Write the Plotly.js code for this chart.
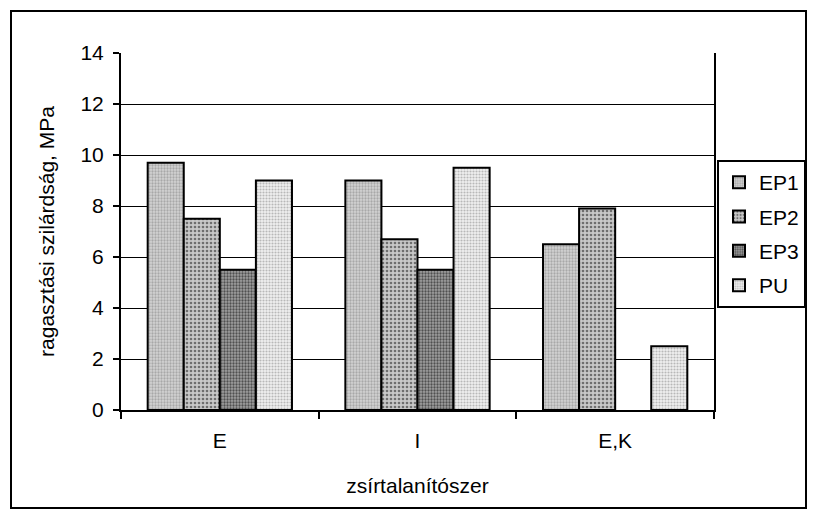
<!DOCTYPE html>
<html>
<head>
<meta charset="utf-8">
<script src="https://cdn.plot.ly/plotly-3.0.1.min.js"></script>
<style>html,body{margin:0;padding:0;background:#fff;}#chart{width:819px;height:519px;}</style>
</head>
<body>
<div id="chart"></div>
<script>
var categories = ["E", "I", "E,K"];
var seriesNames = ["EP1", "EP2", "EP3", "PU"];
var EP1 = [9.7, 9.0, 6.5];
var EP2 = [7.5, 6.7, 7.9];
var EP3 = [5.5, 5.5, null];
var PU = [9.0, 9.5, 2.5];
var yTicks = [0, 2, 4, 6, 8, 10, 12, 14];

var values = [EP1, EP2, EP3, PU];
var fills = [
  {bg: "#d4d4d4", fg: "#a8a8a8", size: 3, sol: 0.45},
  {bg: "#c8c8c8", fg: "#6e6e6e", size: 4, sol: 0.35},
  {bg: "#a0a0a0", fg: "#505050", size: 3, sol: 0.45},
  {bg: "#f0f0f0", fg: "#b8b8b8", size: 3, sol: 0.4}
];
var font = "Liberation Sans, Arial, sans-serif";
var fs = 21;

var traces = seriesNames.map(function (n, i) {
  return {
    type: "bar",
    name: n,
    legendgroup: n,
    x: categories,
    y: values[i],
    marker: {
      color: fills[i].bg,
      line: {color: "#000", width: 2},
      pattern: {shape: ".", fgcolor: fills[i].fg, bgcolor: fills[i].bg, size: fills[i].size, solidity: fills[i].sol, fillmode: "replace"}
    }
  };
});

var layout = {
  width: 819, height: 519,
  margin: {l: 121, r: 105, t: 53, b: 109},
  paper_bgcolor: "#fff", plot_bgcolor: "#fff",
  font: {family: font, size: fs, color: "#000"},
  barmode: "group", bargap: 0.27, bargroupgap: 0,
  showlegend: true,
  legend: {
    x: (806 - 121) / 593, y: 0.70, xanchor: "right", yanchor: "top",
    bordercolor: "#000", borderwidth: 2, bgcolor: "#fff",
    font: {family: font, size: fs, color: "#000"},
    tracegroupgap: 4, itemwidth: 30
  },
  xaxis: {
    type: "category",
    showline: true, linecolor: "#000", linewidth: 2,
    ticks: "outside", tickson: "boundaries", ticklen: 7, tickwidth: 2, tickcolor: "#000",
    showgrid: false,
    ticklabelstandoff: 11,
    tickfont: {family: font, size: fs},
    title: {text: "zsírtalanítószer", font: {family: font, size: fs}, standoff: 27}
  },
  yaxis: {
    range: [0, 14], tickvals: yTicks, ticktext: yTicks.map(String),
    showline: true, mirror: true, linecolor: "#000", linewidth: 2,
    ticks: "outside", ticklen: 6, tickwidth: 2, tickcolor: "#000",
    showgrid: true, gridcolor: "#000", gridwidth: 1,
    zeroline: false,
    ticklabelstandoff: 5,
    tickfont: {family: font, size: fs},
    title: {text: "ragasztási szilárdság, MPa", font: {family: font, size: fs}, standoff: 20}
  },
  shapes: [
    {type: "rect", xref: "paper", yref: "paper",
     x0: (11 - 121) / 593, x1: (806 - 121) / 593,
     y0: (410 - 508) / 357, y1: (410 - 11) / 357,
     line: {color: "#000", width: 2}, fillcolor: "rgba(0,0,0,0)", layer: "below"}
  ]
};

Plotly.newPlot("chart", traces, layout, {displayModeBar: false, staticPlot: true});
</script>
</body>
</html>
